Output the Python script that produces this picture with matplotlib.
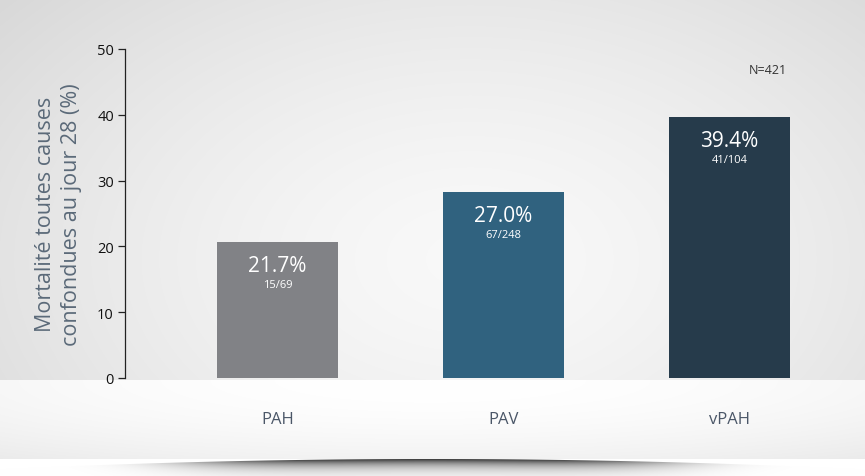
import matplotlib.pyplot as plt
import numpy as np

groups = ['PAH', 'PAV', 'vPAH']
heights = [20.7, 28.3, 39.7]
pct_labels = ['21.7%', '27.0%', '39.4%']
count_labels = ['15/69', '67/248', '41/104']
bar_colors = ['#818286', '#30627f', '#263b4b']
y_ticks = [0, 10, 20, 30, 40, 50]

plt.rcParams['font.family'] = ['Open Sans', 'DejaVu Sans']

W, H = 865, 477
fig = plt.figure(figsize=(W / 100, H / 100), dpi=100)

# background: soft radial grey, white band at the bottom with a shadow under it
yy, xx = np.mgrid[0:H, 0:W]
r = np.sqrt(((xx - 470) / 560.0) ** 2 + ((yy - 260) / 360.0) ** 2)
g = 0.975 - 0.11 * r ** 1.5
band = (yy >= 381) & (yy < 460)
t = (yy - 381) / 79.0
g = np.where(band, 1.0 - 0.05 * t ** 2 - 0.03 * ((xx - 430) / 430.0) ** 2, g)
low = yy >= 460
edge = 459.5 + 5 * ((xx - 430) / 300.0) ** 2
d = yy - edge
cover = np.clip(d + 0.5, 0, 1)
sh = np.exp(-((xx - 430) / 240.0) ** 4) * np.exp(-np.clip(d, 0, None) / 7.0) * cover
g = np.where(low, 1.0 - 0.8 * sh, g)
g = np.clip(g, 0, 1)
bgax = fig.add_axes([0, 0, 1, 1], zorder=-1)
bgax.imshow(np.dstack([g, g, g]), aspect='auto', interpolation='bilinear')
bgax.axis('off')

ax = fig.add_axes([125 / W, (H - 379) / H, (W - 125) / W, 329 / H])
ax.set_facecolor('none')
x = np.arange(len(groups))
ax.bar(x, heights, width=0.535, color=bar_colors, zorder=2)
ax.set_xlim(-0.675, 2.6)
ax.set_ylim(0, 50)
ax.set_yticks(y_ticks)
for s in ['top', 'right', 'bottom']:
    ax.spines[s].set_visible(False)
ax.spines['left'].set_color('#222222')
ax.spines['left'].set_linewidth(0.9)
ax.tick_params(axis='y', length=5, width=0.9, color='#222222', labelsize=10.5, labelcolor='#111111', pad=3)
ax.tick_params(axis='x', length=0, pad=24, labelsize=12, labelcolor='#4b5768')
ax.set_xticks(x)
ax.set_xticklabels(groups)

for xi, h, p, c in zip(x, heights, pct_labels, count_labels):
    ax.annotate(p, (xi, h), xytext=(0, -17), textcoords='offset points',
                ha='center', va='center', color='white', fontsize=15)
    ax.annotate(c, (xi, h), xytext=(0, -30.5), textcoords='offset points',
                ha='center', va='center', color='white', fontsize=8)

fig.text(768 / W, 1 - 70 / H, 'N=421', ha='center', va='center', fontsize=9, color='#333333')
ax.set_ylabel('Mortalité toutes causes\nconfondues au jour 28 (%)', fontsize=15.5, color='#5b6a79',
              linespacing=1.3, labelpad=11)

fig.savefig('out.png', dpi=100)
